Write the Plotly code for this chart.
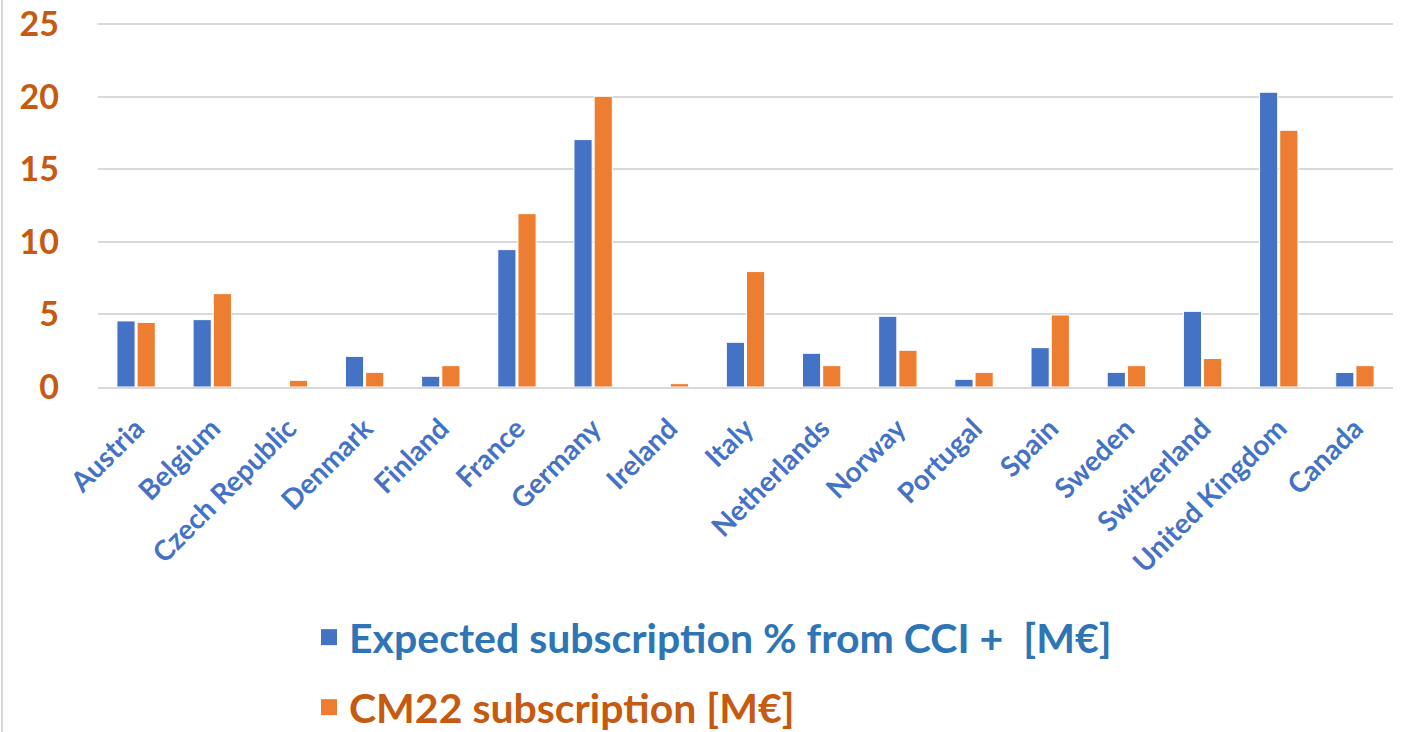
import plotly.graph_objects as go

countries = ["Austria", "Belgium", "Czech Republic", "Denmark", "Finland", "France",
             "Germany", "Ireland", "Italy", "Netherlands", "Norway", "Portugal",
             "Spain", "Sweden", "Switzerland", "United Kingdom", "Canada"]
expected = [4.55, 4.64, 0.0, 2.11, 0.74, 9.46, 17.04, 0.0, 3.08, 2.32, 4.87, 0.53,
            2.71, 1.01, 5.21, 20.3, 1.0]
cm22 = [4.45, 6.43, 0.46, 1.01, 1.47, 11.94, 20.02, 0.23, 7.95, 1.47, 2.53, 1.01,
        4.96, 1.47, 1.96, 17.68, 1.47]
y_ticks = [0, 5, 10, 15, 20, 25]

name_exp = "Expected subscription % from CCI +  [M€]"
name_cm = "CM22 subscription [M€]"

BLUE = "#4472C4"
ORANGE = "#ED7D31"
FONT = "Lato"

fig = go.Figure()
fig.add_trace(go.Bar(x=countries, y=expected, name=name_exp, marker_color=BLUE,
                     marker_line=dict(color="white", width=1), showlegend=False))
fig.add_trace(go.Bar(x=countries, y=cm22, name=name_cm, marker_color=ORANGE,
                     marker_line=dict(color="white", width=1), showlegend=False))
# legend entries
fig.add_trace(go.Scatter(x=[None], y=[None], mode="markers", name=name_exp,
                         marker=dict(symbol="square", size=22, color=BLUE),
                         legend="legend"))
fig.add_trace(go.Scatter(x=[None], y=[None], mode="markers", name=name_cm,
                         marker=dict(symbol="square", size=22, color=ORANGE),
                         legend="legend2"))

W, H = 1406, 732
L, R, T, B = 98, 13, 21, 345
pw = W - L - R
ph = H - T - B
y_max = ph / (363 / 25)   # keeps 25 at the same pixel row as the reference


def py(px):
    return (H - B - px) / ph


def px_(x):
    return (x - L) / pw


fig.update_layout(
    width=W, height=H,
    margin=dict(l=L, r=R, t=T, b=B, autoexpand=False),
    paper_bgcolor="white", plot_bgcolor="white",
    barmode="group", bargap=0.47, bargroupgap=0.1,
    font=dict(family=FONT),
    legend=dict(x=px_(309), y=py(604), xanchor="left", yanchor="top",
                font=dict(size=41, color="#2E75B6", family=FONT, weight="bold"),
                itemsizing="trace", bgcolor="rgba(0,0,0,0)"),
    legend2=dict(x=px_(309), y=py(674), xanchor="left", yanchor="top",
                 font=dict(size=41, color="#C55A11", family=FONT, weight="bold"),
                 itemsizing="trace", bgcolor="rgba(0,0,0,0)"),
    xaxis=dict(type="category", tickangle=-45, automargin=False,
               tickfont=dict(size=28, color=BLUE, family=FONT, weight="bold"),
               showgrid=False, showline=True, linecolor="#D9D9D9", linewidth=2,
               ticks="", ticklabelstandoff=12),
    yaxis=dict(range=[0, y_max], tickvals=y_ticks, automargin=False,
               ticklabeloverflow="allow",
               tickfont=dict(size=34, color="#C55A11", family=FONT, weight="bold"),
               showgrid=True, gridcolor="#D9D9D9", gridwidth=2,
               zeroline=False, showline=False, ticks="", ticklabelstandoff=38),
    shapes=[dict(type="line", xref="paper", yref="paper",
                 x0=px_(2), x1=px_(2), y0=py(-10), y1=py(H + 10),
                 line=dict(color="#D9D9D9", width=2))],
)

fig.write_html("out.html", config={"displayModeBar": False},
               post_script="document.body.style.margin='0px';")
